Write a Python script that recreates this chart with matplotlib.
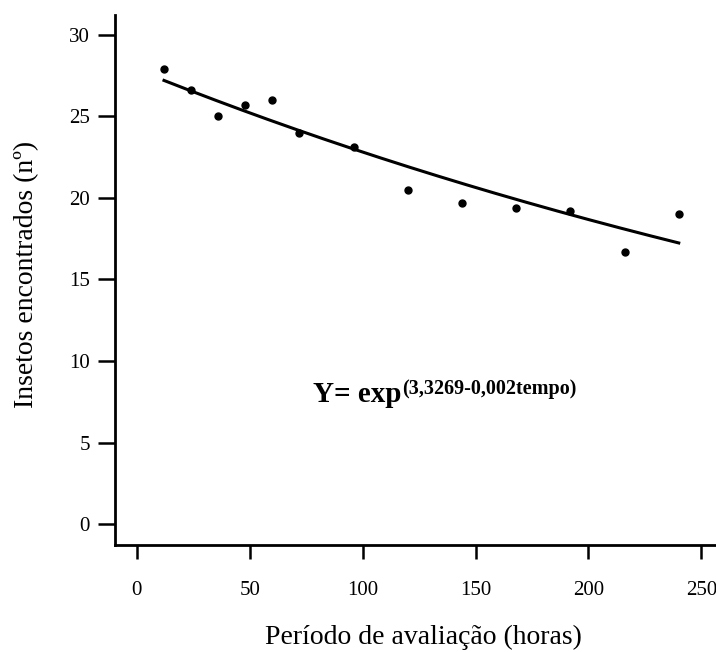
import numpy as np
import matplotlib
matplotlib.use("Agg")
import matplotlib.pyplot as plt

# insect counts per evaluation time
horas = [12, 24, 36, 48, 60, 72, 96, 120, 144, 168, 192, 216, 240]
insetos = [27.9, 26.6, 25.0, 25.7, 26.0, 24.0, 23.1, 20.5, 19.7, 19.4, 19.2, 16.7, 19.0]

# fitted exponential model: Y = exp(a + b*tempo)
coef_a = 3.3269
coef_b = -0.002

xticks = [0, 50, 100, 150, 200, 250]
yticks = [0, 5, 10, 15, 20, 25, 30]

plt.rcParams['font.family'] = ['Liberation Serif', 'DejaVu Serif']

W, H = 716, 652
fig = plt.figure(figsize=(W / 100, H / 100), dpi=100)
ax = fig.add_axes([115 / W, 1 - 545 / H, 1 - 115 / W, (545 - 15) / H])

ax.plot(horas, insetos, 'o', color='black', markersize=5)
t = np.linspace(min(horas), max(horas), 200)
ax.plot(t, np.exp(coef_a + coef_b * t), color='black', linewidth=2.2)

ax.set_xlim(-9.7, 256.5)
ax.set_ylim(-1.27, 31.2)
ax.set_xticks(xticks)
ax.set_yticks(yticks)
ax.tick_params(axis='both', direction='out', width=1.8, length=10,
               labelsize=15, colors='black')
ax.tick_params(axis='x', pad=16)
ax.tick_params(axis='y', length=12, pad=6)

for side in ['top', 'right']:
    ax.spines[side].set_visible(False)
for side in ['left', 'bottom']:
    ax.spines[side].set_linewidth(2)

ax.set_xlabel('Período de avaliação (horas)', fontsize=20)
ax.set_ylabel('Insetos encontrados (nº)', fontsize=20)
ax.xaxis.set_label_coords(0.514, -0.151)
ax.yaxis.set_label_coords(-0.126, 0.511)

# equation label, exponent drawn as a smaller raised text
fig.text(313 / W, 1 - 402 / H, 'Y= exp', fontsize=21, fontweight='bold',
         va='baseline', ha='left')
fig.text(402 / W, 1 - 394 / H, '(3,3269-0,002tempo)', fontsize=14.5,
         fontweight='bold', va='baseline', ha='left')

fig.savefig('out.png', dpi=100)
